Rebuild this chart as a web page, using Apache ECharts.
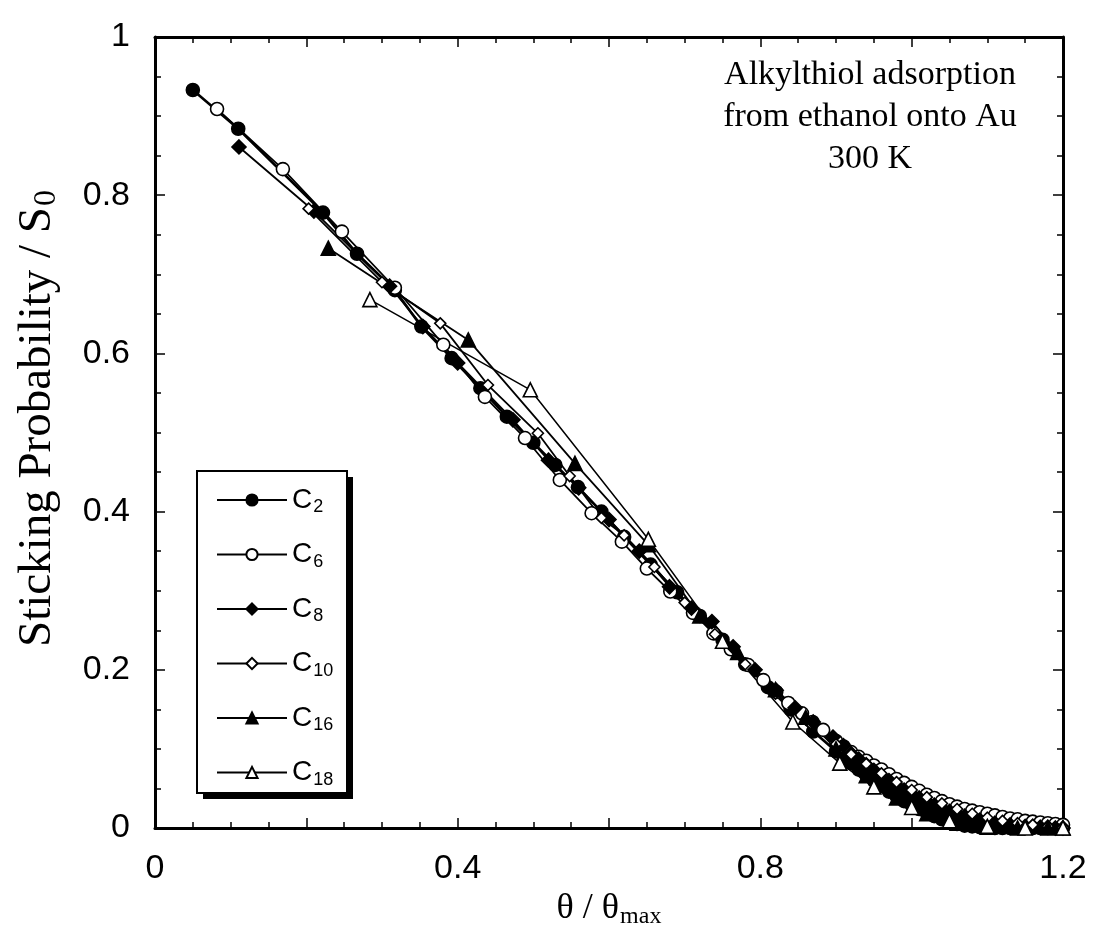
<!DOCTYPE html>
<html>
<head>
<meta charset="utf-8">
<script src="https://cdn.jsdelivr.net/npm/echarts@6/dist/echarts.min.js"></script>
<style>
html,body{margin:0;padding:0;background:#fff;}
#chart{width:1098px;height:950px;}
</style>
</head>
<body>
<div id="chart"></div>
<script>
// ---- data (theta/theta_max, S/S0) ----
const seriesNames = ['C2','C6','C8','C10','C16','C18'];
const xTickLabels = ['0','0.4','0.8','1.2'];
const annotationLines = ['Alkylthiol adsorption','from ethanol onto Au','300 K'];

const c2 = [[0.050,0.933],[0.110,0.884],[0.222,0.778],[0.267,0.726],[0.317,0.680],[0.352,0.634],[0.392,0.594],[0.430,0.556],[0.465,0.520],[0.500,0.487],[0.529,0.459],[0.559,0.431],[0.590,0.400],[0.620,0.368],[0.655,0.333],[0.690,0.298],[0.720,0.268],[0.750,0.238],[0.780,0.207],[0.810,0.178],[0.840,0.150],[0.870,0.122],[0.900,0.097],[0.910,0.089],[0.920,0.082],[0.930,0.074],[0.940,0.067],[0.950,0.060],[0.960,0.053],[0.970,0.046],[0.980,0.040],[0.990,0.034],[1.000,0.029],[1.010,0.024],[1.020,0.019],[1.030,0.015],[1.040,0.011],[1.050,0.008],[1.060,0.005],[1.070,0.003],[1.080,0.002],[1.090,0.001],[1.100,0.001],[1.110,0.000],[1.120,0.000],[1.130,0.000],[1.140,0.000],[1.150,0.000],[1.160,0.000],[1.170,0.000],[1.180,0.000],[1.190,0.000],[1.200,0.000]];

const c6 = [[0.082,0.909],[0.169,0.833],[0.247,0.754],[0.317,0.683],[0.381,0.611],[0.436,0.545],[0.489,0.493],[0.535,0.440],[0.577,0.398],[0.617,0.362],[0.650,0.328],[0.681,0.299],[0.711,0.272],[0.738,0.246],[0.761,0.226],[0.784,0.206],[0.804,0.187],[0.821,0.172],[0.837,0.158],[0.855,0.145],[0.869,0.134],[0.883,0.124],[0.900,0.110],[0.910,0.103],[0.920,0.096],[0.930,0.090],[0.940,0.085],[0.950,0.079],[0.960,0.074],[0.970,0.068],[0.980,0.062],[0.990,0.057],[1.000,0.052],[1.010,0.047],[1.020,0.042],[1.030,0.038],[1.040,0.034],[1.050,0.030],[1.060,0.027],[1.070,0.024],[1.080,0.022],[1.090,0.020],[1.100,0.018],[1.110,0.016],[1.120,0.014],[1.130,0.012],[1.140,0.011],[1.150,0.009],[1.160,0.008],[1.170,0.007],[1.180,0.006],[1.190,0.005],[1.200,0.004]];

const c8 = [[0.111,0.861],[0.210,0.780],[0.310,0.685],[0.354,0.634],[0.400,0.588],[0.473,0.516],[0.520,0.465],[0.560,0.430],[0.600,0.390],[0.640,0.350],[0.680,0.305],[0.709,0.278],[0.736,0.261],[0.764,0.229],[0.793,0.200],[0.821,0.174],[0.846,0.152],[0.870,0.134],[0.896,0.115],[0.910,0.104],[0.920,0.094],[0.930,0.087],[0.940,0.080],[0.950,0.073],[0.960,0.066],[0.970,0.060],[0.980,0.054],[0.990,0.048],[1.000,0.043],[1.010,0.038],[1.020,0.033],[1.030,0.029],[1.040,0.025],[1.050,0.021],[1.060,0.018],[1.070,0.015],[1.080,0.012],[1.090,0.010],[1.100,0.008],[1.110,0.006],[1.120,0.005],[1.130,0.004],[1.140,0.003],[1.150,0.002],[1.160,0.002],[1.170,0.001],[1.180,0.001],[1.190,0.000],[1.200,0.000]];

const c10 = [[0.203,0.783],[0.300,0.690],[0.377,0.638],[0.440,0.560],[0.506,0.499],[0.548,0.445],[0.590,0.392],[0.620,0.370],[0.660,0.330],[0.700,0.285],[0.740,0.245],[0.780,0.207],[0.820,0.170],[0.860,0.137],[0.900,0.106],[0.920,0.093],[0.940,0.081],[0.960,0.069],[0.980,0.058],[1.000,0.048],[1.020,0.039],[1.040,0.031],[1.060,0.024],[1.080,0.018],[1.100,0.013],[1.120,0.009],[1.140,0.006],[1.160,0.004],[1.180,0.002],[1.200,0.001]];

const c16 = [[0.229,0.733],[0.414,0.617],[0.555,0.461],[0.652,0.358],[0.720,0.268],[0.770,0.222],[0.820,0.175],[0.860,0.140],[0.900,0.100],[0.940,0.066],[0.980,0.038],[1.020,0.018],[1.060,0.006],[1.100,0.001],[1.140,0.000],[1.180,0.000],[1.200,0.000]];

const c18 = [[0.284,0.668],[0.496,0.554],[0.652,0.365],[0.750,0.236],[0.843,0.134],[0.905,0.082],[0.950,0.052],[1.000,0.026],[1.050,0.009],[1.100,0.002],[1.150,0.000],[1.200,0.000]];

// ---- styling ----
const SERIF = '"Liberation Serif","DejaVu Serif",serif';
const SANS = '"Liberation Sans","DejaVu Sans",sans-serif';
const styles = {
  C2:  {symbol:'circle',   fill:'#000', size:13, lw:2.6},
  C6:  {symbol:'circle',   fill:'#fff', size:13, lw:1.8},
  C8:  {symbol:'diamond',  fill:'#000', size:14, lw:1.8},
  C10: {symbol:'diamond',  fill:'#fff', size:11, lw:1.8},
  C16: {symbol:'triangle', fill:'#000', size:14, lw:1.8},
  C18: {symbol:'triangle', fill:'#fff', size:14, lw:1.5}
};
const dataMap = {C2:c2, C6:c6, C8:c8, C10:c10, C16:c16, C18:c18};

function mkSeries(name){
  const s = styles[name];
  return {
    name: name, type:'line', xAxisIndex:0, yAxisIndex:0,
    data: dataMap[name],
    symbol: s.symbol, symbolSize: s.size, showAllSymbol:true,
    lineStyle:{color:'#000', width:s.lw},
    itemStyle:{color:s.fill, borderColor:'#000', borderWidth:1.6},
    emphasis:{disabled:true}, animation:false, z: 3
  };
}

const axisCommon = {
  type:'value',
  axisLine:{show:true, onZero:false, lineStyle:{color:'#000', width:3}},
  axisTick:{show:true, inside:true, length:10, lineStyle:{color:'#000', width:1.5}},
  minorTick:{show:true, splitNumber:4, length:6, lineStyle:{color:'#000', width:1.5}},
  splitLine:{show:false}, minorSplitLine:{show:false}
};

const chart = echarts.init(document.getElementById('chart'), null, {renderer:'canvas'});
const option = {
  backgroundColor:'#fff',
  animation:false,
  grid:{left:155, right:35, top:37, bottom:122},
  xAxis:[
    Object.assign({}, axisCommon, {
      position:'bottom', min:0, max:1.2, interval:0.2,
      axisLabel:{show:true, margin:24, color:'#000', fontFamily:SANS, fontSize:34,
        formatter:function(v){
          const k = Math.round(v/0.4);
          if (Math.abs(v - k*0.4) < 1e-6) return xTickLabels[k] || '';
          return '';
        }},
      name:'{t|θ / θ}{sub|max}', nameLocation:'middle', nameGap:52,
      nameTextStyle:{color:'#000', fontFamily:SERIF, fontSize:36,
        rich:{t:{fontFamily:SERIF, fontSize:36, color:'#000'},
              sub:{fontFamily:SERIF, fontSize:24, color:'#000', padding:[16,0,0,1]}}}
    }),
    Object.assign({}, axisCommon, {
      position:'top', min:0, max:1.2, interval:0.2, axisLabel:{show:false}
    })
  ],
  yAxis:[
    Object.assign({}, axisCommon, {
      position:'left', min:0, max:1, interval:0.2,
      axisLabel:{show:true, margin:25, color:'#000', fontFamily:SANS, fontSize:34},
      name:'{t|Sticking Probability / S}{sub|0}', nameLocation:'middle', nameGap:92, nameRotate:90,
      nameTextStyle:{color:'#000', fontFamily:SERIF, fontSize:47, padding:[0,0,0,28],
        rich:{t:{fontFamily:SERIF, fontSize:47, color:'#000'},
              sub:{fontFamily:SERIF, fontSize:32, color:'#000', padding:[18,0,0,1]}}}
    }),
    Object.assign({}, axisCommon, {
      position:'right', min:0, max:1, interval:0.2, axisLabel:{show:false}
    })
  ],
  legend:{
    show:true, orient:'vertical', left:216, top:486, z:10,
    data: seriesNames,
    itemWidth:70, itemHeight:14, itemGap:24,
    padding:0,
    selectedMode:false,
    formatter:function(n){ return '{a|C}{b|' + n.slice(1) + '}'; },
    textStyle:{color:'#000', fontFamily:SANS, fontSize:28,
      rich:{a:{fontFamily:SANS, fontSize:28, color:'#000'},
            b:{fontFamily:SANS, fontSize:18, color:'#000', padding:[15,0,0,1]}}}
  },
  graphic: [
    {type:'rect', z:8, shape:{x:203, y:477, width:150, height:322}, style:{fill:'#000'}},
    {type:'rect', z:9, shape:{x:197, y:471, width:150, height:322}, style:{fill:'#fff', stroke:'#000', lineWidth:2}}
  ].concat(annotationLines.map(function(t, i){
    return {type:'text', x:870, y:75 + i*42, z:10,
      style:{text:t, fill:'#000', font:'34px ' + SERIF, textAlign:'center', textVerticalAlign:'middle'}};
  })),
  series: seriesNames.map(mkSeries)
};
chart.setOption(option);
</script>
</body>
</html>
